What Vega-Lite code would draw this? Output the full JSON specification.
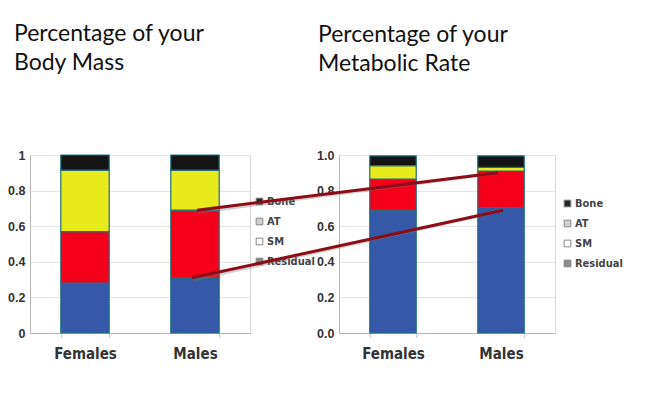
{
  "$schema": "https://vega.github.io/schema/vega-lite/v6.json",
  "background": "white",
  "padding": {"left": 7, "top": 22, "right": 0, "bottom": 0},
  "spacing": 89,
  "bounds": "flush",
  "config": {
    "view": {"stroke": "#d6d6d6", "strokeWidth": 1},
    "title": {"font": "Lato", "fontSize": 23, "fontWeight": "normal", "color": "#111", "anchor": "start", "lineHeight": 29, "frame": "group"},
    "axis": {"labelFont": "Liberation Sans", "labelFontWeight": "bold", "labelColor": "#333", "domainColor": "#b5b5b5", "gridColor": "#e3e3e3", "tickColor": "#c8c8c8", "title": null, "labelOverlap": false},
    "axisY": {"labelFontSize": 12.5, "ticks": false, "labelPadding": 5},
    "axisX": {"labelFont": "'DejaVu Sans Condensed', 'Liberation Sans', sans-serif", "labelFontSize": 15, "labelAngle": 0, "tickBand": "extent", "tickSize": 4, "labelPadding": 9, "grid": false},
    "legend": {"orient": "none", "title": null, "symbolType": "square", "symbolSize": 45, "symbolStrokeColor": "#888", "symbolStrokeWidth": 1, "labelFont": "'DejaVu Sans Condensed', 'Liberation Sans', sans-serif", "labelFontWeight": "bold", "labelFontSize": 11, "labelColor": "#444", "rowPadding": 8, "labelOffset": 2}
  },
  "datasets": {
    "mass": [
      {"sex": "Females", "part": "Residual", "ord": 1, "share": 0.28},
      {"sex": "Females", "part": "SM", "ord": 2, "share": 0.29},
      {"sex": "Females", "part": "AT", "ord": 3, "share": 0.345},
      {"sex": "Females", "part": "Bone", "ord": 4, "share": 0.085},
      {"sex": "Males", "part": "Residual", "ord": 1, "share": 0.31},
      {"sex": "Males", "part": "SM", "ord": 2, "share": 0.38},
      {"sex": "Males", "part": "AT", "ord": 3, "share": 0.225},
      {"sex": "Males", "part": "Bone", "ord": 4, "share": 0.085}
    ],
    "rate": [
      {"sex": "Females", "part": "Residual", "ord": 1, "share": 0.69},
      {"sex": "Females", "part": "SM", "ord": 2, "share": 0.175},
      {"sex": "Females", "part": "AT", "ord": 3, "share": 0.075},
      {"sex": "Females", "part": "Bone", "ord": 4, "share": 0.055},
      {"sex": "Males", "part": "Residual", "ord": 1, "share": 0.705},
      {"sex": "Males", "part": "SM", "ord": 2, "share": 0.205},
      {"sex": "Males", "part": "AT", "ord": 3, "share": 0.02},
      {"sex": "Males", "part": "Bone", "ord": 4, "share": 0.065}
    ],
    "links": [
      {"from": -1.315, "to": 1.47, "y0": 0.69, "y1": 0.9},
      {"from": -1.36, "to": 1.52, "y0": 0.31, "y1": 0.69}
    ]
  },
  "resolve": {"legend": {"color": "independent"}},
  "hconcat": [
    {
      "title": {"text": ["Percentage of your", "Body Mass"], "offset": 74, "dx": -16},
      "width": 220,
      "height": 178,
      "data": {"name": "mass"},
      "layer": [
        {
          "mark": {"type": "bar", "stroke": "#1f6f7f", "strokeWidth": 1.2},
          "encoding": {
            "x": {"field": "sex", "type": "nominal", "sort": ["Females", "Males"], "scale": {"paddingInner": 0.56, "paddingOuter": 0.28}},
            "y": {"field": "share", "type": "quantitative", "stack": "zero", "scale": {"domain": [0, 1], "nice": false}, "axis": {"values": [0, 0.2, 0.4, 0.6, 0.8, 1], "format": "~g"}},
            "fill": {"field": "part", "type": "nominal", "scale": {"domain": ["Bone", "AT", "SM", "Residual"], "range": ["#141414", "#e8ea1c", "#f5001a", "#3559a8"]}, "legend": null},
            "order": {"field": "ord", "type": "quantitative"}
          }
        },
        {
          "mark": {"type": "bar", "stroke": "#888888", "strokeWidth": 0},
          "encoding": {
            "y": {"datum": 0, "axis": {"values": [0, 0.2, 0.4, 0.6, 0.8, 1], "format": "~g"}},
            "color": {"field": "part", "type": "nominal", "scale": {"domain": ["Bone", "AT", "SM", "Residual"], "range": ["#262626", "#cfcfcf", "#ffffff", "#8a8a8a"]}, "legend": {"legendX": 224, "legendY": 41}}
          }
        }
      ]
    },
    {
      "title": {"text": ["Percentage of your", "Metabolic Rate"], "offset": 73, "dx": -21},
      "width": 216,
      "height": 178,
      "layer": [
        {
          "data": {"name": "rate"},
          "mark": {"type": "bar", "stroke": "#1f6f7f", "strokeWidth": 1.2},
          "encoding": {
            "x": {"field": "sex", "type": "nominal", "sort": ["Females", "Males"], "scale": {"paddingInner": 0.57, "paddingOuter": 0.285}},
            "y": {"field": "share", "type": "quantitative", "stack": "zero", "scale": {"domain": [0, 1], "nice": false}, "axis": {"values": [0, 0.2, 0.4, 0.6, 0.8, 1], "format": ".1f"}},
            "fill": {"field": "part", "type": "nominal", "scale": {"domain": ["Bone", "AT", "SM", "Residual"], "range": ["#141414", "#e8ea1c", "#f5001a", "#3559a8"]}, "legend": null},
            "order": {"field": "ord", "type": "quantitative"}
          }
        },
        {
          "data": {"name": "rate"},
          "mark": {"type": "bar", "stroke": "#888888", "strokeWidth": 0},
          "encoding": {
            "y": {"datum": 0, "axis": {"values": [0, 0.2, 0.4, 0.6, 0.8, 1], "format": ".1f"}},
            "color": {"field": "part", "type": "nominal", "scale": {"domain": ["Bone", "AT", "SM", "Residual"], "range": ["#262626", "#cfcfcf", "#ffffff", "#8a8a8a"]}, "legend": {"legendX": 223, "legendY": 43}}
          }
        },
        {
          "data": {"name": "links"},
          "mark": {"type": "rule", "color": "#777777", "opacity": 0.35, "strokeWidth": 3.5, "yOffset": 2, "xOffset": 1},
          "encoding": {
            "x": {"field": "from", "type": "quantitative", "scale": {"domain": [0, 2], "nice": false, "zero": false}, "axis": null},
            "x2": {"field": "to"},
            "y": {"field": "y0", "type": "quantitative", "axis": {"values": [0, 0.2, 0.4, 0.6, 0.8, 1], "format": ".1f"}},
            "y2": {"field": "y1"}
          }
        },
        {
          "data": {"name": "links"},
          "mark": {"type": "rule", "color": "#8c0d18", "strokeWidth": 3, "strokeCap": "butt"},
          "encoding": {
            "x": {"field": "from", "type": "quantitative", "scale": {"domain": [0, 2], "nice": false, "zero": false}, "axis": null},
            "x2": {"field": "to"},
            "y": {"field": "y0", "type": "quantitative", "axis": {"values": [0, 0.2, 0.4, 0.6, 0.8, 1], "format": ".1f"}},
            "y2": {"field": "y1"}
          }
        }
      ],
      "resolve": {"scale": {"x": "independent"}}
    }
  ]
}
